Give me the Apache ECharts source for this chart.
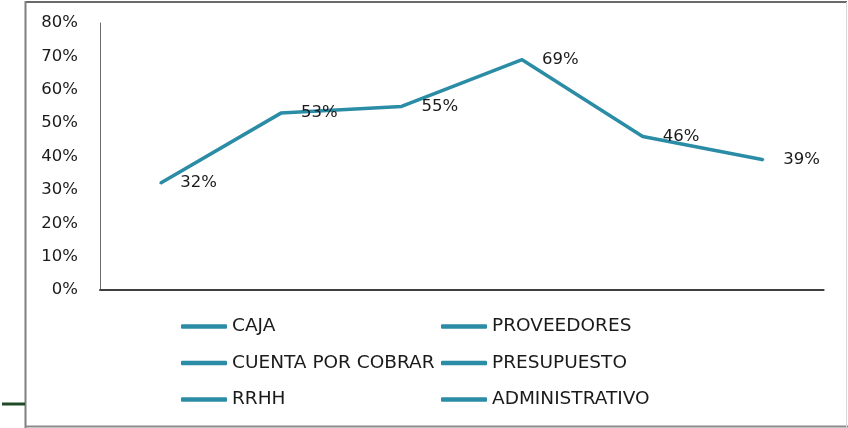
<!DOCTYPE html>
<html>
<head>
<meta charset="utf-8">
<script src="https://cdn.jsdelivr.net/npm/echarts@6/dist/echarts.min.js"></script>
<style>
  html, body { margin: 0; padding: 0; background: #fff; }
  #chart { width: 848px; height: 428px; }
</style>
</head>
<body>
<div id="chart"></div>
<script>
// Areas, in the order they run along the line
const categories = ['CAJA', 'PROVEEDORES', 'CUENTA POR COBRAR', 'PRESUPUESTO', 'RRHH', 'ADMINISTRATIVO'];
// Percentage per area
const values = [32, 53, 55, 69, 46, 39];
// Legend columns
const legendLeft = ['CAJA', 'CUENTA POR COBRAR', 'RRHH'];
const legendRight = ['PROVEEDORES', 'PRESUPUESTO', 'ADMINISTRATIVO'];

const lineColor = '#2b8ca6';
const font = 'DejaVu Sans';

const chart = echarts.init(document.getElementById('chart'), null, { renderer: 'canvas' });

const legendCommon = {
  orient: 'vertical',
  top: 317,
  itemWidth: 46,
  itemHeight: 4.5,
  itemGap: 17.5,
  icon: 'roundRect',
  selectedMode: false,
  textStyle: { fontFamily: font, fontSize: 18.5, color: '#1a1a1a', lineHeight: 18, padding: [0, 0, 0, 0] },
  padding: 0
};

// Legend-only entries sharing the line colour
const legendSeries = categories.map(name => ({
  name,
  type: 'line',
  data: [],
  symbol: 'none',
  lineStyle: { color: lineColor, width: 3.5 },
  itemStyle: { color: lineColor }
}));

chart.setOption({
  animation: false,
  backgroundColor: '#fff',
  grid: { left: 100, right: 24.4, top: 23, bottom: 138, containLabel: false },
  legend: [
    Object.assign({}, legendCommon, { left: 181, data: legendLeft }),
    Object.assign({}, legendCommon, { left: 441, data: legendRight })
  ],
  xAxis: {
    type: 'category',
    data: categories,
    boundaryGap: true,
    axisLine: { show: true, lineStyle: { color: '#3f3f3f', width: 2 } },
    axisTick: { show: false },
    axisLabel: { show: false },
    splitLine: { show: false }
  },
  yAxis: {
    type: 'value',
    min: 0,
    max: 80,
    interval: 10,
    axisLine: { show: true, lineStyle: { color: '#6b6b6b', width: 1 } },
    axisTick: { show: false },
    splitLine: { show: false },
    axisLabel: {
      formatter: '{value}%',
      margin: 22,
      fontFamily: font,
      fontSize: 16.5,
      color: '#1a1a1a',
      padding: [0, 0, 2, 0]
    }
  },
  series: [
    {
      type: 'line',
      data: values,
      symbol: 'circle',
      symbolSize: 2,
      itemStyle: { color: lineColor },
      lineStyle: { color: lineColor, width: 3.5 },
      label: {
        show: true,
        position: 'right',
        distance: 19,
        formatter: '{c}%',
        fontFamily: font,
        fontSize: 16.5,
        color: '#1a1a1a'
      },
      z: 3
    }
  ].concat(legendSeries),
  graphic: [
    { type: 'line', shape: { x1: 25, y1: 2, x2: 847, y2: 2 }, style: { stroke: '#6a6a6a', lineWidth: 2 } },
    { type: 'line', shape: { x1: 25.5, y1: 1, x2: 25.5, y2: 428 }, style: { stroke: '#7f7f7f', lineWidth: 2 } },
    { type: 'line', shape: { x1: 25, y1: 426.5, x2: 848, y2: 426.5 }, style: { stroke: '#8a8a8a', lineWidth: 2 } },
    { type: 'line', shape: { x1: 846.5, y1: 2, x2: 846.5, y2: 427 }, style: { stroke: '#d9d9d9', lineWidth: 1 } },
    { type: 'line', shape: { x1: 2, y1: 404, x2: 25, y2: 404 }, style: { stroke: '#1e4a26', lineWidth: 3 } }
  ]
});
</script>
</body>
</html>
